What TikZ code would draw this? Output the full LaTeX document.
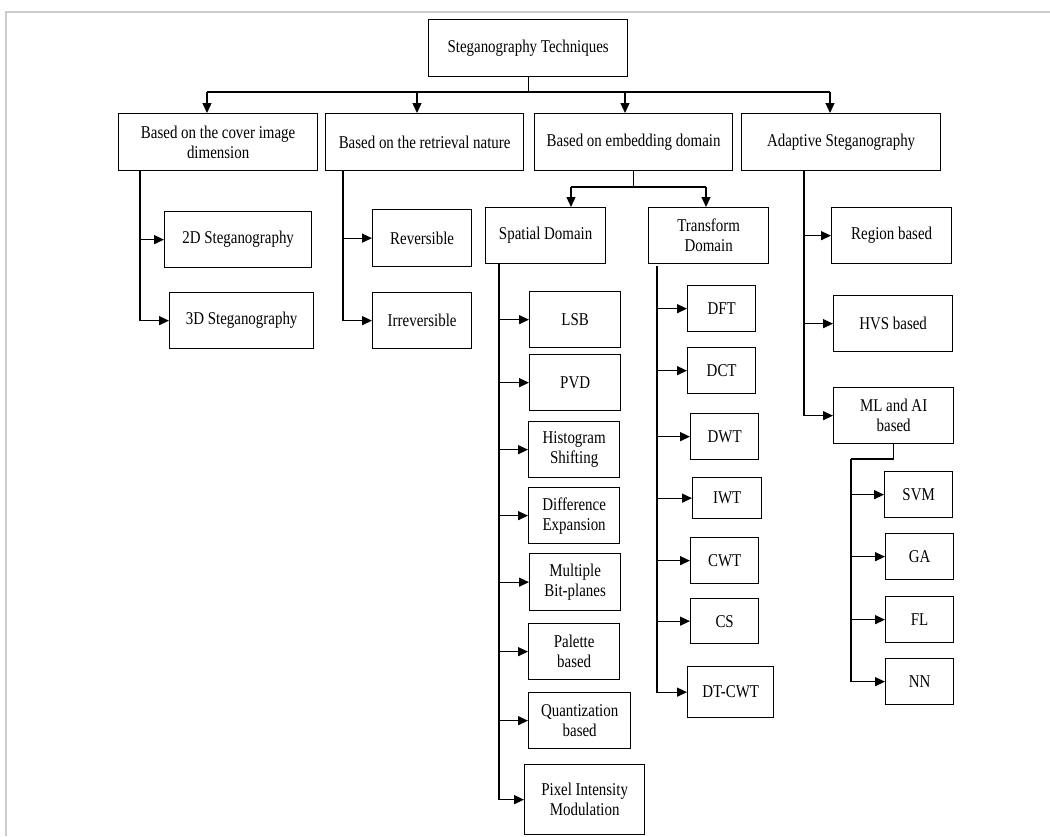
\documentclass[tikz,border=0pt]{standalone}
\usepackage{fontspec}
\setmainfont{Liberation Serif}[FakeStretch=0.83]
\usetikzlibrary{arrows.meta}

\tikzset{
	box/.style 2 args={draw, line width=1.3pt, anchor=north west, align=center,
		inner sep=1pt, minimum width=#1pt, minimum height=#2pt},
	link/.style={line width=1.3pt},
	arr/.style={link, -{Triangle[length=10pt,width=9pt]}}
}

\begin{document}
\begin{tikzpicture}[x=1pt,y=-1pt,font=\fontsize{18}{20}\selectfont]

	\useasboundingbox (0,0) rectangle (1050,836);
	\draw[line width=2pt, black!20] (6,836) -- (6,12) -- (1050,12);

	% top level
	\node[box={199}{57}] (root) at (428,19) {Steganography Techniques};

	\node[box={199}{57}] (cover) at (118,113) {Based on the cover image\\dimension};
	\node[box={198}{57}] (retr)  at (325,113) {Based on the retrieval nature};
	\node[box={198}{57}] (embed) at (534,113) {Based on embedding domain};
	\node[box={199}{57}] (adapt) at (741,113) {Adaptive Steganography};

	\coordinate (busA) at (207,92);
	\coordinate (busB) at (417,92);
	\coordinate (busC) at (625,92);
	\coordinate (busD) at (830,92);
	\draw[link] (root.south) -- (root.south |- busA);
	\draw[link] (busA) -- (busD);
	\draw[arr] (busA) -- (busA |- cover.north);
	\draw[arr] (busB) -- (busB |- retr.north);
	\draw[arr] (busC) -- (busC |- embed.north);
	\draw[arr] (busD) -- (busD |- adapt.north);

	% cover image dimension
	\node[box={147}{56}] (twoD)   at (164,211) {2D Steganography};
	\node[box={144}{56}] (threeD) at (169,292) {3D Steganography};
	\foreach \n in {twoD,threeD}
		\draw[arr] ([xshift=22pt]cover.south west) |- (\n.west);

	% retrieval nature
	\node[box={99}{57}] (rev) at (372,209) {Reversible};
	\node[box={99}{56}] (irr) at (372,292) {Irreversible};
	\foreach \n in {rev,irr}
		\draw[arr] ([xshift=18pt]retr.south west) |- (\n.west);

	% embedding domain
	\node[box={120}{56}] (spat)  at (485,207) {Spatial Domain};
	\node[box={120}{56}] (trans) at (648,207) {Transform\\Domain};

	\coordinate (embL) at (571,187);
	\coordinate (embR) at (706,187);
	\draw[link] (embed.south) -- (embed.south |- embL);
	\draw[link] (embL) -- (embR);
	\draw[arr] (embL) -- (embL |- spat.north);
	\draw[arr] (embR) -- (embR |- trans.north);

	\node[box={91}{56}]  (lsb)  at (529,291) {LSB};
	\node[box={91}{56}]  (pvd)  at (529,354) {PVD};
	\node[box={91}{56}]  (hist) at (528,421) {Histogram\\Shifting};
	\node[box={91}{56}]  (diff) at (528,487) {Difference\\Expansion};
	\node[box={91}{57}]  (bitp) at (529,553) {Multiple\\Bit-planes};
	\node[box={91}{56}]  (pal)  at (528,623) {Palette\\based};
	\node[box={102}{56}] (quan) at (528,692) {Quantization\\based};
	\node[box={120}{70}] (pix)  at (524,764) {Pixel Intensity\\Modulation};
	\foreach \n in {lsb,pvd,hist,diff,bitp,pal,quan,pix}
		\draw[arr] ([xshift=14pt]spat.south west) |- (\n.west);

	\node[box={68}{46}] (dft)   at (687,285) {DFT};
	\node[box={68}{46}] (dct)   at (687,347) {DCT};
	\node[box={68}{46}] (dwt)   at (690,413) {DWT};
	\node[box={69}{41}] (iwt)   at (692,477) {IWT};
	\node[box={68}{46}] (cwt)   at (690,537) {CWT};
	\node[box={68}{45}] (cs)    at (690,598) {CS};
	\node[box={86}{51}] (dtcwt) at (687,666) {DT-CWT};
	\foreach \n in {dft,dct,dwt,iwt,cwt,cs,dtcwt}
		\draw[arr] ([xshift=9pt,yshift=-2pt]trans.south west) |- (\n.west);

	% adaptive
	\node[box={120}{56}] (region) at (831,207) {Region based};
	\node[box={119}{56}] (hvs)    at (833,295) {HVS based};
	\node[box={120}{56}] (mlai)   at (833,387) {ML and AI\\based};
	\foreach \n in {region,hvs,mlai}
		\draw[arr] ([xshift=63pt]adapt.south west) |- (\n.west);

	\node[box={68}{46}] (svm) at (884,471) {SVM};
	\node[box={68}{46}] (ga)  at (885,533) {GA};
	\node[box={68}{46}] (fl)  at (885,596) {FL};
	\node[box={68}{46}] (nn)  at (885,658) {NN};

	\coordinate (mlbus) at (851,459);
	\draw[link] (mlai.south) |- (mlbus);
	\foreach \n in {svm,ga,fl,nn}
		\draw[arr] (mlbus) |- (\n.west);

\end{tikzpicture}
\end{document}
